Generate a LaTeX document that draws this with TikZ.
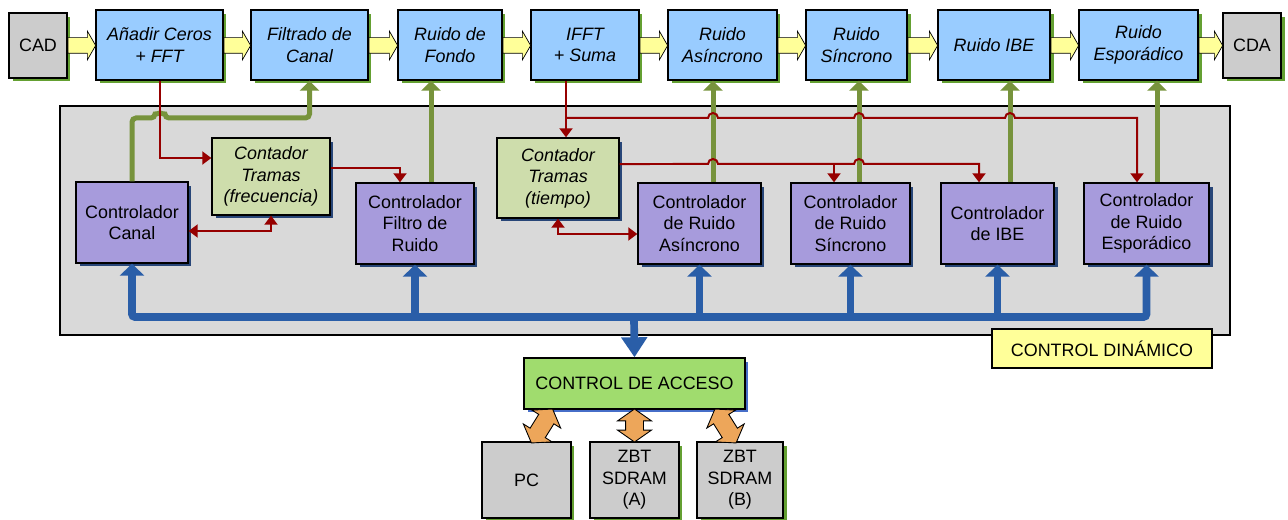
\documentclass[tikz,border=0pt]{standalone}
\usepackage{fontspec}
\setmainfont{Liberation Sans}
\usetikzlibrary{positioning}
\usetikzlibrary{arrows.meta}
\usetikzlibrary{shapes.arrows,shadows,calc}
\definecolor{azulc}{RGB}{153,204,255}
\definecolor{grisc}{RGB}{204,204,204}
\definecolor{grisp}{RGB}{217,217,217}
\definecolor{lila}{RGB}{167,155,220}
\definecolor{verdec}{RGB}{206,221,172}
\definecolor{verdea}{RGB}{160,220,110}
\definecolor{amarillo}{RGB}{255,255,153}
\definecolor{naranja}{RGB}{237,166,90}
\definecolor{azulb}{RGB}{42,94,168}
\definecolor{verdel}{RGB}{119,147,60}
\definecolor{rojo}{RGB}{150,0,0}
\definecolor{sverde}{RGB}{100,160,50}
\definecolor{snavy}{RGB}{40,70,120}
\definecolor{sazul}{RGB}{70,110,200}
\newcommand{\diagfont}{\fontsize{10.2}{12.3}\selectfont}

\begin{document}
\begin{tikzpicture}[x=.02cm,y=-.02cm,line width=.8pt] % units are pixels
\tikzstyle{box}=[draw=black,line width=.8pt,align=center,inner sep=0pt,font=\diagfont]
\tikzstyle{proc}=[box,fill=azulc,font=\diagfont\itshape,minimum height=1.4cm,
  drop shadow={shadow xshift=.07cm,shadow yshift=-.07cm,fill=sverde,opacity=1}]
\tikzstyle{ext}=[box,fill=grisc,drop shadow={shadow xshift=.07cm,shadow yshift=-.07cm,fill=sverde,opacity=1}]
\tikzstyle{ctrl}=[box,fill=lila,minimum height=1.62cm,
  drop shadow={shadow xshift=.07cm,shadow yshift=-.07cm,fill=snavy,opacity=1}]
\tikzstyle{cont}=[box,fill=verdec,font=\diagfont\itshape,
  drop shadow={shadow xshift=.07cm,shadow yshift=-.07cm,fill=snavy,opacity=1}]
\tikzstyle{panel}=[draw=black,fill=grisp,line width=.8pt,inner sep=0pt]
\tikzstyle{tag}=[box,fill=amarillo]
\tikzstyle{yarrow}=[single arrow,draw=black,line width=.4pt,fill=amarillo,inner xsep=0pt,inner ysep=.15cm,
  single arrow head extend=.13cm,single arrow tip angle=120]
\tikzstyle{oarrow}=[double arrow,draw=black,line width=.5pt,fill=naranja,inner xsep=0pt,inner ysep=.17cm,
  minimum height=.8cm,double arrow head extend=.16cm,double arrow tip angle=110]
\tikzstyle{rline}=[draw=rojo,line width=.04cm,>={Triangle[width=.26cm,length=.18cm]}]
\tikzstyle{gline}=[draw=verdel,line width=.1cm,>={Triangle[width=.38cm,length=.2cm]}]
\tikzstyle{bline}=[draw=azulb,line width=.154cm,>={Triangle[width=.48cm,length=.24cm]}]

\useasboundingbox (0,0) rectangle (1288,520);

% panel
\draw (645,220.5) node[panel,minimum width=23.4cm,minimum height=4.58cm] (dinamico) {};

% top chain
\draw (38,45.5) node[ext,minimum width=1.16cm,minimum height=1.3cm] (cad) {CAD};
\draw (159.5,45) node[proc,minimum width=2.54cm] (anadir) {Añadir Ceros\\+ FFT};
\draw (309.5,45) node[proc,minimum width=2.34cm] (filtrado) {Filtrado de\\Canal};
\draw (450,45) node[proc,minimum width=2.08cm] (fondo) {Ruido de\\Fondo};
\draw (585,45) node[proc,minimum width=2.16cm] (ifft) {IFFT\\+ Suma};
\draw (722.5,45) node[proc,minimum width=2.18cm] (asinc) {Ruido\\Asíncrono};
\draw (856.5,45) node[proc,minimum width=2.02cm] (sinc) {Ruido\\Síncrono};
\draw (994,45) node[proc,minimum width=2.24cm] (ibe) {Ruido IBE};
\draw (1138.5,45) node[proc,minimum width=2.38cm] (espor) {Ruido\\Esporádico};
\draw (1252,45.5) node[ext,minimum width=1.16cm,minimum height=1.3cm] (cda) {CDA};

\foreach \a/\b [count=\i] in {cad/anadir,anadir/filtrado,filtrado/fondo,fondo/ifft,
  ifft/asinc,asinc/sinc,sinc/ibe,ibe/espor,espor/cda}
  \path let \p1=(\a.east), \p2=(\b.west) in
    node[yarrow,minimum height=\x2-\x1,anchor=west] (ya\i) at (\a.east |- 0,45.5) {};

% controllers
\draw (132,222.5) node[ctrl,minimum width=2.24cm] (ctrcanal) {Controlador\\Canal};
\draw (271,176.5) node[cont,minimum width=2.36cm,minimum height=1.54cm] (cntfrec) {Contador\\Tramas\\(frecuencia)};
\draw (415,223.5) node[ctrl,minimum width=2.36cm] (ctrfiltro) {Controlador\\Filtro de\\Ruido};
\draw (558,178) node[cont,minimum width=2.44cm,minimum height=1.6cm] (cnttiempo) {Contador\\Tramas\\(tiempo)};
\draw (699.5,223.5) node[ctrl,minimum width=2.46cm] (ctrasinc) {Controlador\\de Ruido\\Asíncrono};
\draw (850.5,223.5) node[ctrl,minimum width=2.38cm] (ctrsinc) {Controlador\\de Ruido\\Síncrono};
\draw (997.5,223.5) node[ctrl,minimum width=2.26cm] (ctribe) {Controlador\\de IBE};
\draw (1146.5,223.5) node[ctrl,minimum width=2.5cm] (ctrespor) {Controlador\\de Ruido\\Esporádico};

% labels and memory side
\draw (1102,348.5) node[tag,minimum width=4.4cm,minimum height=.78cm] (dinlabel) {CONTROL DINÁMICO};
\draw (634.5,383.5) node[box,fill=verdea,minimum width=4.42cm,minimum height=1.02cm,
  drop shadow={shadow xshift=.07cm,shadow yshift=-.07cm,fill=sazul,opacity=1}] (acceso) {CONTROL DE ACCESO};
\draw (526.5,480) node[ext,minimum width=1.78cm,minimum height=1.52cm] (pc) {PC};
\draw (634.5,480) node[ext,minimum width=1.78cm,minimum height=1.52cm] (zbta) {ZBT\\SDRAM\\(A)};
\draw (740,480) node[ext,minimum width=1.72cm,minimum height=1.52cm] (zbtb) {ZBT\\SDRAM\\(B)};

% ports
\coordinate (redtop) at (0,118);
\coordinate (redmid) at (0,164);
\coordinate (bus) at (634,317);
\coordinate (ifftout) at ([xshift=-.38cm]ifft.south);
\coordinate (tiempoout) at ([yshift=.28cm]cnttiempo.east);
\coordinate (filtin) at ([xshift=-.3cm]ctrfiltro.north);
\coordinate (sincin) at ([xshift=-.33cm]ctrsinc.north);
\coordinate (ibein) at ([xshift=-.37cm]ctribe.north);
\coordinate (esporin) at ([xshift=-.19cm]ctrespor.north);

% green control lines
\draw[gline,->,rounded corners=.08cm] (ctrcanal.north) |- (155,118)
  arc[start angle=180,end angle=0,radius=.1cm] -- (filtrado.south |- redtop) -- (filtrado.south);
\foreach \c/\t/\s in {ctrfiltro/fondo/.32,ctrasinc/asinc/.27,ctrsinc/sinc/.17,ctribe/ibe/.25,ctrespor/espor/.21}{
  \coordinate (g\c) at ([xshift=\s cm]\c.north);
  \draw[gline,->] (g\c) -- (g\c |- \t.south);
}

% red frame lines
\draw[rline,->] (anadir.south) |- ([yshift=.37cm]cntfrec.west);
\draw[rline,->] ([yshift=.17cm]cntfrec.east) -| (filtin);
\draw[rline,<->] ([yshift=-.17cm]ctrcanal.east) -| (cntfrec.south);
\draw[rline,->] (ifftout) -- (ifftout |- cnttiempo.north);
\draw[rline,->] (ifftout |- redtop) -- (708,118) arc[start angle=180,end angle=0,radius=.1cm]
  -- (854,118) arc[start angle=180,end angle=0,radius=.1cm]
  -- (1005,118) arc[start angle=180,end angle=0,radius=.1cm] -- (esporin |- redtop) -- (esporin);
\draw[rline,->] (tiempoout) -- (708,164) arc[start angle=180,end angle=0,radius=.1cm]
  -- (854,164) arc[start angle=180,end angle=0,radius=.1cm] -- (ibein |- redmid) -- (ibein);
\draw[rline,->] (sincin |- redmid) -- (sincin);
\draw[rline,<->] (cnttiempo.south) |- ([yshift=-.21cm]ctrasinc.west);

% blue bus
\draw[bline,<->,rounded corners=.06cm] (ctrcanal.south) -- (ctrcanal.south |- bus)
  -- (ctrespor.south |- bus) -- (ctrespor.south);
\foreach \c in {ctrfiltro,ctrasinc,ctrsinc,ctribe}
  \draw[bline,->] (\c.south |- bus) -- (\c.south);
\draw[bline,-{Triangle[width=.5cm,length=.4cm]}] (bus) -- (acceso.north);

% memory links
\draw (542,426) node[oarrow,rotate=58] (lpc) {};
\draw (634.5,425.5) node[oarrow,rotate=90,minimum height=.66cm] (lzbta) {};
\draw (725.5,426) node[oarrow,rotate=122] (lzbtb) {};
\end{tikzpicture}
\end{document}
